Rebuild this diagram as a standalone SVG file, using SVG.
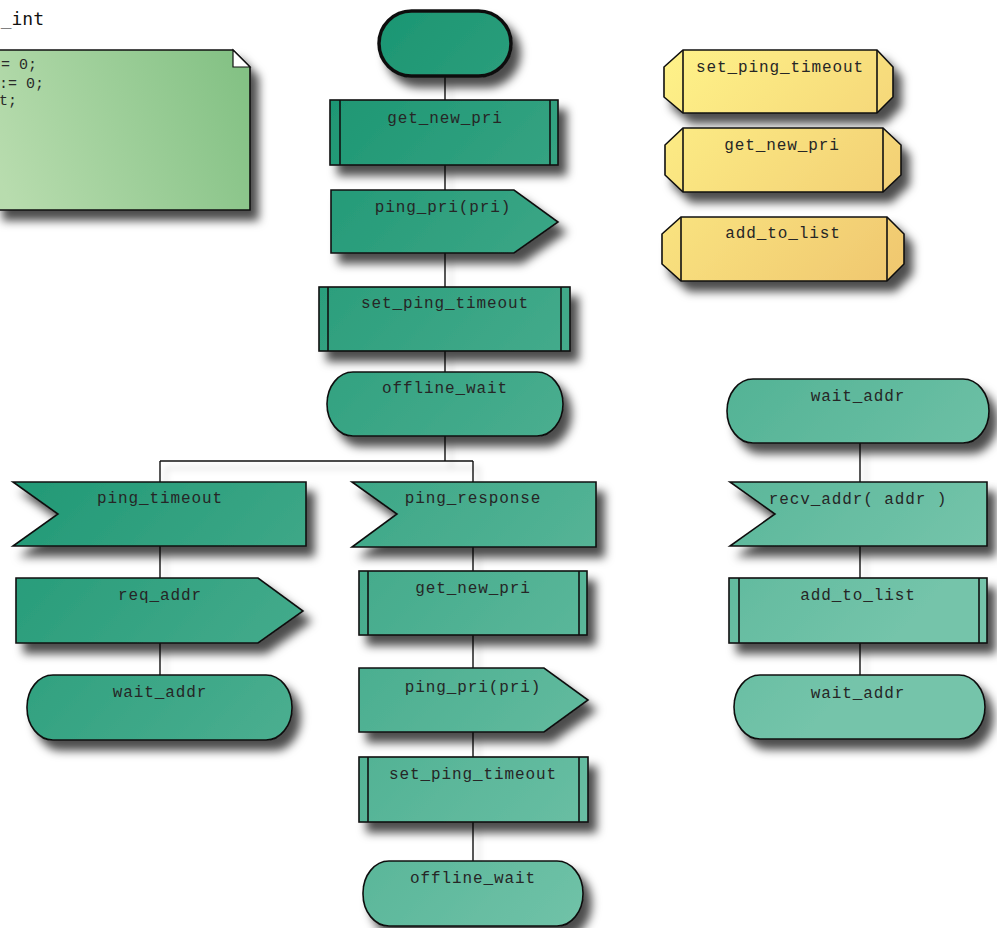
<svg xmlns="http://www.w3.org/2000/svg" width="997" height="928" viewBox="0 0 997 928">
<defs>
<linearGradient id="gG" gradientUnits="userSpaceOnUse" x1="0" y1="0" x2="997" y2="928">
<stop offset="0.2" stop-color="#1a9571"/>
<stop offset="0.8" stop-color="#74c4aa"/>
</linearGradient>
<linearGradient id="gY" gradientUnits="userSpaceOnUse" x1="660" y1="40" x2="910" y2="290">
<stop offset="0" stop-color="#fff48a"/>
<stop offset="1" stop-color="#efc56e"/>
</linearGradient>
<linearGradient id="gN" gradientUnits="userSpaceOnUse" x1="0" y1="180" x2="250" y2="80">
<stop offset="0" stop-color="#b8dcae"/>
<stop offset="1" stop-color="#83c184"/>
</linearGradient>
<filter id="sh" x="-20%" y="-30%" width="150%" height="190%">
<feDropShadow dx="8" dy="10" stdDeviation="5" flood-color="#000" flood-opacity="0.7"/>
</filter>
<filter id="lsh" x="-50%" y="-50%" width="200%" height="200%">
<feDropShadow dx="6" dy="7" stdDeviation="3" flood-color="#000" flood-opacity="0.22"/>
</filter>
</defs>
<style>
.n{fill:url(#gG);stroke:#111;stroke-width:1.6;filter:url(#sh)}
.y{fill:url(#gY);stroke:#111;stroke-width:1.6;filter:url(#sh)}
.b{stroke:#111;stroke-width:1.6;fill:none}
.t{font-family:"Liberation Mono","Courier New",monospace;font-size:16px;letter-spacing:0.9px;fill:#262626;text-anchor:middle}
.c{stroke:#111;stroke-width:1.4;fill:none;filter:url(#lsh)}
.nt{font-family:"Liberation Mono","Courier New",monospace;font-size:15px;fill:#2a2a2a}
</style>
<rect width="997" height="928" fill="#fff"/>

<text x="44" y="25" text-anchor="end" font-family="DejaVu Sans Mono, monospace" font-size="18" fill="#111">_int</text>

<g id="note">
<path d="M-5,50 L233,50 L250,67 L250,210 L-5,210 Z" fill="url(#gN)" stroke="#111" stroke-width="1.6" filter="url(#sh)"/>
<path d="M233,50 L250,67 L233,67 Z" fill="#fff" stroke="#111" stroke-width="1.2"/>
<text class="nt" x="1" y="69">= 0;</text>
<text class="nt" x="-1" y="88">:= 0;</text>
<text class="nt" x="-1" y="105">t;</text>
</g>

<g id="connectors">
<path class="c" d="M445,77 V100 M445,165 V190 M445,253 V287 M445,351 V372 M445,436 V461 M160,461 H473 M160,461 V482 M473,461 V482 M160,546 V578 M160,643 V675 M473,547 V571 M473,635 V668 M473,732 V757 M473,822 V861 M860,443 V482 M860,546 V578 M860,643 V675"/>
</g>

<g id="start"><rect class="n" x="379" y="11" width="132" height="65" rx="32.5" style="stroke-width:3.5"/></g>

<g id="get_new_pri_1"><rect class="n" x="330" y="100" width="228" height="65"/><path class="b" d="M340,100 V165 M550,100 V165"/><text class="t" x="445" y="123">get_new_pri</text></g>

<g id="ping_pri_1"><polygon class="n" points="331,190 514,190 558,222 514,253 331,253"/><text class="t" x="443" y="212">ping_pri(pri)</text></g>

<g id="set_ping_timeout_1"><rect class="n" x="319" y="287" width="251" height="64"/><path class="b" d="M328,287 V351 M561,287 V351"/><text class="t" x="445" y="308">set_ping_timeout</text></g>

<g id="offline_wait_1"><rect class="n" x="327" y="372" width="236" height="64" rx="26" ry="32"/><text class="t" x="445" y="393">offline_wait</text></g>

<g id="ping_timeout"><polygon class="n" points="13,482 306,482 306,546 13,546 58,514"/><text class="t" x="160" y="503">ping_timeout</text></g>

<g id="req_addr"><polygon class="n" points="16,578 258,578 303,611 258,643 16,643"/><text class="t" x="160" y="600">req_addr</text></g>

<g id="wait_addr_1"><rect class="n" x="27" y="675" width="265" height="65" rx="26" ry="32"/><text class="t" x="160" y="697">wait_addr</text></g>

<g id="ping_response"><polygon class="n" points="352,482 596,482 596,547 352,547 397,514"/><text class="t" x="473" y="503">ping_response</text></g>

<g id="get_new_pri_2"><rect class="n" x="359" y="571" width="228" height="64"/><path class="b" d="M368,571 V635 M579,571 V635"/><text class="t" x="473" y="593">get_new_pri</text></g>

<g id="ping_pri_2"><polygon class="n" points="359,668 544,668 588,700 544,732 359,732"/><text class="t" x="473" y="692">ping_pri(pri)</text></g>

<g id="set_ping_timeout_2"><rect class="n" x="359" y="757" width="229" height="65"/><path class="b" d="M368,757 V822 M579,757 V822"/><text class="t" x="473" y="779">set_ping_timeout</text></g>

<g id="offline_wait_2"><rect class="n" x="363" y="861" width="220" height="65" rx="26" ry="32"/><text class="t" x="473" y="883">offline_wait</text></g>

<g id="wait_addr_2"><rect class="n" x="727" y="379" width="262" height="64" rx="26" ry="32"/><text class="t" x="858" y="401">wait_addr</text></g>

<g id="recv_addr"><polygon class="n" points="730,482 987,482 987,546 730,546 775,514"/><text class="t" x="858" y="504">recv_addr( addr )</text></g>

<g id="add_to_list"><rect class="n" x="729" y="578" width="258" height="65"/><path class="b" d="M739,578 V643 M979,578 V643"/><text class="t" x="858" y="600">add_to_list</text></g>

<g id="wait_addr_3"><rect class="n" x="734" y="675" width="251" height="64" rx="26" ry="32"/><text class="t" x="858" y="698">wait_addr</text></g>

<g id="proc_set_ping_timeout"><polygon class="y" points="683,50 877,50 893,67 893,97 877,113 683,113 664,97 664,67"/><path class="b" d="M683,50 V113 M877,50 V113"/><text class="t" x="780" y="72">set_ping_timeout</text></g>

<g id="proc_get_new_pri"><polygon class="y" points="683,128 883,128 901,145 901,175 883,192 683,192 665,175 665,145"/><path class="b" d="M683,128 V192 M883,128 V192"/><text class="t" x="782" y="150">get_new_pri</text></g>

<g id="proc_add_to_list"><polygon class="y" points="681,217 887,217 904,234 904,264 887,281 681,281 662,264 662,234"/><path class="b" d="M681,217 V281 M887,217 V281"/><text class="t" x="783" y="238">add_to_list</text></g>
</svg>
